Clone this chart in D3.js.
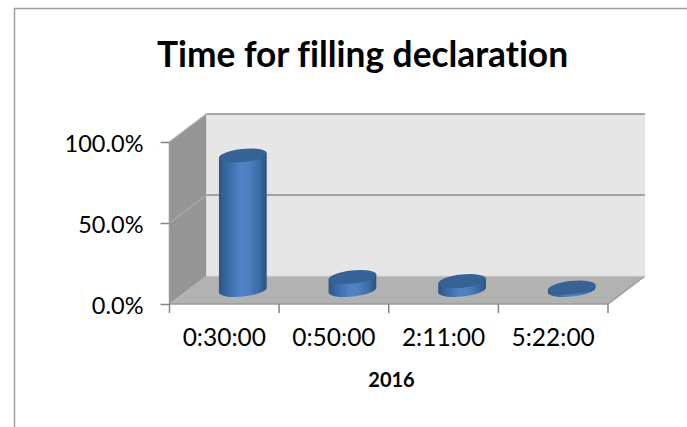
<!DOCTYPE html>
<html>
<head>
<meta charset="utf-8">
<script src="https://cdn.jsdelivr.net/npm/d3@7"></script>
<style>
body { margin: 0; background: #fff; }
svg { display: block; }
text { font-family: Lato, sans-serif; fill: #000; font-variant-ligatures: none; }
.tick text { font-size: 23.5px; font-family: Lato, sans-serif; }
.xlabels .tick text { font-size: 24.5px; }
.tick line { stroke: #868686; stroke-width: 1.5; }
.title { font-size: 35.3px; font-weight: 700; text-anchor: middle; }
.xtitle { font-size: 20px; font-weight: 700; text-anchor: middle; }
</style>
</head>
<body>
<svg width="687" height="427"></svg>
<script>
var categories = ["0:30:00", "0:50:00", "2:11:00", "5:22:00"];
var values = [0.83, 0.08, 0.055, 0.015];
var yTicks = [0, 0.5, 1];

var svg = d3.select("svg");

// 3d box: front edge of the floor, and how far the back wall is shifted
var plotLeft = 169.5, plotRight = 608, plotBottom = 304, plotTop = 142;
var depthX = 37, depthY = -28;

var xScale = d3.scaleBand().domain(categories).range([plotLeft, plotRight]);
var yScale = d3.scaleLinear().domain([0, 1]).range([plotBottom, plotTop]);

// chart frame, right and bottom run off the image
svg.append("path")
    .attr("d", "M14.5,427V8.5H687")
    .attr("fill", "none")
    .attr("stroke", "#a0a0a0")
    .attr("stroke-width", 1.5);

svg.append("text").attr("class", "title").attr("x", 362.5).attr("y", 67)
    .text("Time for filling declaration");

var defs = svg.append("defs");
var grad = defs.append("linearGradient").attr("id", "barGrad");
[[0, "#2b5485"], [0.1, "#33629a"], [0.45, "#4f83c6"], [0.62, "#4d80c1"], [0.85, "#3a6aa3"], [1, "#2a527f"]].forEach(function(s) {
    grad.append("stop").attr("offset", s[0]).attr("stop-color", s[1]);
});

// side wall
svg.append("path")
    .attr("d", d3.line()([[plotLeft, yScale(0)], [plotLeft, yScale(1)], [plotLeft + depthX, yScale(1) + depthY], [plotLeft + depthX, yScale(0) + depthY]]) + "Z")
    .attr("fill", "#959595");
// back wall
svg.append("rect")
    .attr("x", plotLeft + depthX).attr("y", yScale(1) + depthY)
    .attr("width", plotRight - plotLeft).attr("height", yScale(0) - yScale(1))
    .attr("fill", "#e6e6e6");
// floor
svg.append("path")
    .attr("d", d3.line()([[plotLeft, yScale(0)], [plotLeft + depthX, yScale(0) + depthY], [plotRight + depthX, yScale(0) + depthY], [plotRight, yScale(0)]]) + "Z")
    .attr("fill", "#b2b2b2");

// gridlines: along the side wall and the back wall
yTicks.forEach(function(t) {
    var y = yScale(t);
    if (t === 0) {
        svg.append("path")
            .attr("d", d3.line()([[plotLeft, y], [plotRight, y], [plotRight + depthX, y + depthY]]))
            .attr("fill", "none").attr("stroke", "#9a9a9a").attr("stroke-width", 1.5);
        return;
    }
    svg.append("path")
        .attr("d", d3.line()([[plotLeft, y], [plotLeft + depthX, y + depthY]]))
        .attr("fill", "none").attr("stroke", "#a8a8a8").attr("stroke-width", 1.5);
    svg.append("path")
        .attr("d", d3.line()([[plotLeft + depthX, y + depthY], [plotRight + depthX, y + depthY]]))
        .attr("fill", "none").attr("stroke", "#8c8c8c").attr("stroke-width", 1.5);
});
svg.append("path")
    .attr("d", d3.line()([[plotLeft, yScale(0)], [plotLeft, yScale(1)]]))
    .attr("stroke", "#9a9a9a").attr("stroke-width", 1.5);
svg.append("path")
    .attr("d", d3.line()([[plotLeft + depthX, yScale(0) + depthY], [plotRight + depthX, yScale(0) + depthY]]))
    .attr("stroke", "#d8d8d8").attr("stroke-width", 1);

// axes
var yAxis = svg.append("g").attr("transform", "translate(" + plotLeft + ",0)")
    .call(d3.axisLeft(yScale).tickValues(yTicks).tickFormat(d3.format(".1%")).tickSize(9).tickPadding(17));
yAxis.select(".domain").remove();
yAxis.selectAll("text").attr("y", 1.5);

var xAxis = svg.append("g").attr("class", "xlabels").attr("transform", "translate(0," + plotBottom + ")")
    .call(d3.axisBottom(xScale).tickSize(0).tickPadding(25));
xAxis.select(".domain").remove();
xAxis.selectAll(".tick line").remove();
svg.selectAll(".edge")
    .data(categories.concat("end"))
    .enter().append("line")
    .attr("class", "edge")
    .attr("x1", function(d, i) { return plotLeft + i * xScale.bandwidth(); })
    .attr("x2", function(d, i) { return plotLeft + i * xScale.bandwidth(); })
    .attr("y1", plotBottom).attr("y2", plotBottom + 9)
    .attr("stroke", "#868686").attr("stroke-width", 1.5);

svg.append("text").attr("class", "xtitle").attr("x", 391.5).attr("y", 387).text("2016");

// cylinders, sitting mid-way into the floor
var rx = 24, ry = 6.6, tilt = -6;
var tx = rx * Math.cos(tilt * Math.PI / 180), ty = rx * Math.sin(tilt * Math.PI / 180);
var bars = svg.selectAll(".bar")
    .data(values)
    .enter().append("g")
    .attr("class", "bar")
    .attr("transform", function(d, i) {
        return "translate(" + (xScale(categories[i]) + xScale.bandwidth() / 2 + depthX / 2) + ",0)";
    });

bars.append("path")
    .attr("fill", "url(#barGrad)")
    .attr("d", function(d) {
        var yb = yScale(0) + depthY / 2, yt = yScale(d) + depthY / 2;
        return "M" + (-tx) + "," + (yt - ty) +
            "L" + tx + "," + (yt + ty) +
            "L" + tx + "," + (yb + ty) +
            "A" + rx + "," + ry + " " + tilt + " 0 1 " + (-tx) + "," + (yb - ty) + "Z";
    });
bars.append("ellipse")
    .attr("rx", rx).attr("ry", ry)
    .attr("transform", function(d) {
        return "translate(0," + (yScale(d) + depthY / 2) + ") rotate(" + tilt + ")";
    })
    .attr("fill", "#376296");
</script>
</body>
</html>
